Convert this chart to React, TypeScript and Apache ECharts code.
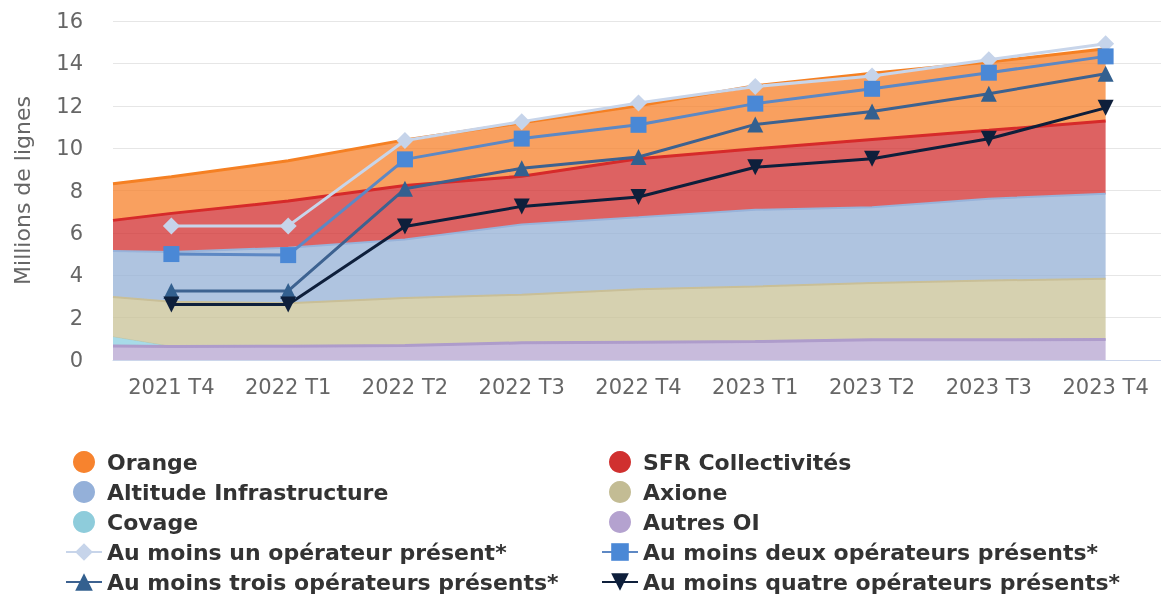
import React, { useEffect, useRef } from 'react';
import * as echarts from 'echarts';

const categories = ['2021 T4', '2022 T1', '2022 T2', '2022 T3', '2022 T4', '2023 T1', '2023 T2', '2023 T3', '2023 T4'];

// Area series (stacked): first point sits half a period before 2021 T4 (edge of plot)
const areaCategoryIndex = [-0.5, 0, 1, 2, 3, 4, 5, 6, 7, 8];
const autresOI = [0.66, 0.64, 0.65, 0.69, 0.81, 0.84, 0.87, 0.95, 0.95, 0.97];
const covage = [0.43, 0, 0, 0, 0, 0, 0, 0, 0, 0];
const axione = [1.88, 2.11, 2.03, 2.24, 2.27, 2.5, 2.6, 2.69, 2.8, 2.86];
const altitude = [2.17, 2.35, 2.62, 2.76, 3.32, 3.4, 3.62, 3.57, 3.86, 4.02];
const sfr = [1.45, 1.82, 2.2, 2.55, 2.27, 2.76, 2.88, 3.2, 3.23, 3.43];
const orange = [1.73, 1.73, 1.9, 2.15, 2.53, 2.5, 2.98, 3.13, 3.22, 3.41];

// Line series
const auMoinsUn = [6.33, 6.33, 10.36, 11.25, 12.13, 12.91, 13.4, 14.17, 14.93];
const auMoinsDeux = [5.0, 4.95, 9.47, 10.45, 11.1, 12.1, 12.8, 13.56, 14.33];
const auMoinsTrois = [3.26, 3.26, 8.08, 9.05, 9.58, 11.12, 11.73, 12.57, 13.51];
const auMoinsQuatre = [2.62, 2.62, 6.3, 7.25, 7.69, 9.1, 9.5, 10.44, 11.9];

const yTicks = { min: 0, max: 16, interval: 2 };

const FONT = 'DejaVu Sans';

function areaPoints(values: number[]) {
  return values.map((v, i) => [areaCategoryIndex[i] * 1000, v]);
}

function areaSeries(name: string, values: number[], base: string, line: string, legendColor: string, lineWidth: number, z = 2) {
  return {
    name,
    type: 'line',
    xAxisIndex: 1,
    yAxisIndex: 0,
    stack: 'ops',
    data: areaPoints(values),
    symbol: 'none',
    showSymbol: false,
    silent: true,
    z,
    lineStyle: { color: line, width: lineWidth },
    areaStyle: { color: base, opacity: 0.75 },
    itemStyle: { color: legendColor },
    emphasis: { disabled: true },
  };
}

function lineSeries(name: string, values: number[], color: string, markerColor: string, symbol: string, size: number, rotate = 0) {
  return {
    name,
    type: 'line',
    xAxisIndex: 0,
    yAxisIndex: 0,
    data: values,
    symbol,
    symbolSize: size,
    symbolRotate: rotate,
    showSymbol: true,
    silent: true,
    z: 5,
    lineStyle: { color, width: 3 },
    itemStyle: { color: markerColor },
    emphasis: { disabled: true },
  };
}

const legendText = { fontFamily: FONT, fontSize: 22, lineHeight: 22, fontWeight: 'bold', color: '#333333' };

const legendBase = {
  orient: 'vertical',
  top: 451,
  padding: 0,
  itemWidth: 36,
  itemHeight: 22,
  itemGap: 8,
  selectedMode: false,
  textStyle: legendText,
};

export default function App() {
  const ref = useRef<HTMLDivElement>(null);
  useEffect(() => {
    const chart = echarts.init(ref.current!, null, { renderer: 'svg' });
    chart.setOption({
      animation: false,
      textStyle: { fontFamily: FONT },
      grid: { left: 113, top: 21, width: 1051, height: 339, outerBoundsMode: 'none', containLabel: false },
      xAxis: [
        {
          type: 'category',
          data: categories,
          boundaryGap: true,
          axisLine: { lineStyle: { color: '#CCD6EB', width: 1 } },
          axisTick: { show: false },
          axisLabel: { fontFamily: FONT, fontSize: 21, color: '#666666', margin: 16 },
          splitLine: { show: false },
        },
        {
          type: 'time',
          show: false,
          min: -500,
          max: 8500,
          splitLine: { show: false },
        },
      ],
      yAxis: {
        type: 'value',
        min: yTicks.min,
        max: yTicks.max,
        interval: yTicks.interval,
        name: 'Millions de lignes',
        nameLocation: 'middle',
        nameGap: 80,
        nameTextStyle: { fontFamily: FONT, fontSize: 22, color: '#666666' },
        axisLine: { show: false },
        axisTick: { show: false },
        axisLabel: { fontFamily: FONT, fontSize: 21, color: '#666666', margin: 30 },
        splitLine: { lineStyle: { color: '#E6E6E6', width: 1 } },
      },
      legend: [
        {
          ...legendBase,
          left: 65,
          data: [
            { name: 'Orange', icon: 'circle' },
            { name: 'Altitude Infrastructure', icon: 'circle' },
            { name: 'Covage', icon: 'circle' },
            'Au moins un opérateur présent*',
            'Au moins trois opérateurs présents*',
          ],
        },
        {
          ...legendBase,
          left: 601,
          data: [
            { name: 'SFR Collectivités', icon: 'circle' },
            { name: 'Axione', icon: 'circle' },
            { name: 'Autres OI', icon: 'circle' },
            'Au moins deux opérateurs présents*',
            'Au moins quatre opérateurs présents*',
          ],
        },
      ],
      series: [
        areaSeries('Autres OI', autresOI, '#B5A4D0', '#AE9CCB', '#B4A2CF', 3, 3),
        areaSeries('Covage', covage, '#8ACFE0', '#9FD6E4', '#8ECCDB', 1, 1),
        areaSeries('Axione', axione, '#C8C196', '#C9BF97', '#C3BC94', 2),
        areaSeries('Altitude Infrastructure', altitude, '#94B0D5', '#98B3DA', '#94B0D9', 2),
        areaSeries('SFR Collectivités', sfr, '#D12E2E', '#D62A2A', '#D0302F', 3),
        areaSeries('Orange', orange, '#F7802A', '#F58023', '#F7832E', 3),
        lineSeries('Au moins un opérateur présent*', auMoinsUn, '#C8D5EA', '#C6D4EA', 'diamond', 17),
        lineSeries('Au moins deux opérateurs présents*', auMoinsDeux, '#5D88C4', '#4A88D6', 'rect', 16),
        lineSeries('Au moins trois opérateurs présents*', auMoinsTrois, '#3D6290', '#33608F', 'triangle', 16),
        lineSeries('Au moins quatre opérateurs présents*', auMoinsQuatre, '#0E1F3B', '#0E1F3B', 'triangle', 16, 180),
      ],
    });
    return () => chart.dispose();
  }, []);
  return <div ref={ref} style={{ position: 'fixed', left: 0, top: 0, width: 1161, height: 598 }} />;
}
